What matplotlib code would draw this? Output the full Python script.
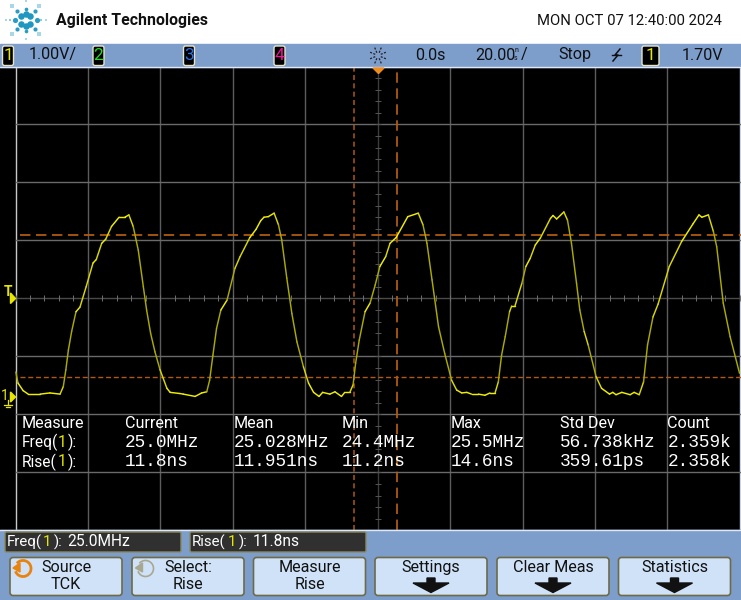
import numpy as np
import matplotlib
matplotlib.use('Agg')
import matplotlib.pyplot as plt
from matplotlib.collections import LineCollection
from matplotlib.patches import Rectangle, FancyBboxPatch, Polygon, Arc

plt.rcParams['font.family'] = ['Roboto', 'DejaVu Sans']
plt.rcParams['lines.scale_dashes'] = False

# trace, ns and volts
time_ns = [-99.9, -99.3, -97.9, -96.5, -93.2, -90.5, -87.7, -86.8, -86.1, -85.4, -84.5, -83.3, -82.2, -80.5,
           -78.6, -77.7, -76.2, -75.1, -73.5, -71.4, -69.8, -68.7, -67.5, -66.1, -64.7, -63.8, -62.7, -61.5,
           -60.1, -58.2, -57.3, -54.6, -53.7, -50.4, -48.6, -47.2, -46.4, -45.5, -44.5, -43.3, -41.6, -39.4,
           -38.0, -35.3, -33.6, -32.3, -31.4, -30.2, -28.6, -27.4, -26.5, -25.1, -23.7, -22.3, -20.5, -19.1,
           -17.7, -16.2, -15.2, -13.2, -11.8, -10.0, -9.1, -7.7, -6.8, -6.1, -5.1, -3.5, -2.1, -0.7,
           0.6, 2.2, 3.4, 5.1, 8.3, 11.2, 12.5, 13.6, 15.0, 16.8, 18.5, 20.4, 21.8, 23.2,
           24.6, 25.9, 27.8, 29.6, 31.0, 32.4, 33.3, 34.2, 35.2, 36.4, 37.0, 37.9, 39.8, 40.9,
           42.1, 43.5, 44.9, 47.7, 48.4, 49.4, 51.4, 52.4, 53.5, 54.9, 55.8, 57.0, 58.1, 60.3,
           61.8, 64.0, 64.9, 65.8, 67.4, 69.7, 70.8, 72.2, 73.4, 74.5, 76.0, 77.4, 80.5, 83.9,
           87.1, 88.7, 89.5, 91.3, 92.7, 93.6, 95.4, 97.3, 99.9]
volts = [0.43, 0.24, 0.11, 0.05, 0.05, 0.07, 0.05, 0.18, 0.47, 0.81, 1.13, 1.47, 1.55, 1.90,
         2.31, 2.37, 2.65, 2.72, 2.94, 3.10, 3.10, 3.14, 2.94, 2.53, 1.90, 1.50, 1.10, 0.78,
         0.47, 0.15, 0.08, 0.06, 0.05, 0.01, 0.07, 0.09, 0.29, 0.72, 1.18, 1.50, 1.67, 2.22,
         2.42, 2.75, 2.89, 3.04, 3.10, 3.11, 3.17, 2.97, 2.71, 2.05, 1.44, 0.95, 0.52, 0.24,
         0.08, 0.01, 0.08, 0.05, 0.09, 0.01, 0.08, 0.08, 0.21, 0.58, 0.98, 1.47, 1.62, 1.93,
         2.25, 2.42, 2.65, 2.75, 3.11, 3.17, 2.97, 2.65, 2.02, 1.21, 0.75, 0.29, 0.12, 0.07,
         0.08, 0.05, 0.05, 0.03, 0.07, 0.07, 0.26, 0.72, 1.04, 1.47, 1.57, 1.57, 1.96, 2.25,
         2.39, 2.62, 2.74, 3.08, 3.13, 3.07, 3.19, 3.05, 2.65, 1.96, 1.50, 1.13, 0.90, 0.35,
         0.15, 0.05, 0.08, 0.04, 0.08, 0.04, 0.08, 0.04, 0.26, 0.90, 1.38, 1.60, 2.25, 2.68,
         2.99, 3.14, 3.10, 3.14, 2.85, 2.59, 1.62, 1.04, 0.41]

cursor_x_ns = [-6.5, 5.3]
cursor_y_v = [2.80, 0.35]

table_headers = ['Current', 'Mean', 'Min', 'Max', 'Std Dev', 'Count']
freq_row = ['25.0MHz', '25.028MHz', '24.4MHz', '25.5MHz', '56.738kHz', '2.359k']
rise_row = ['11.8ns', '11.951ns', '11.2ns', '14.6ns', '359.61ps', '2.358k']
softkeys = [('Source', 'TCK'), ('Select:', 'Rise'), ('Measure', 'Rise'),
            ('Settings', ''), ('Clear Meas', ''), ('Statistics', '')]

BAND = '#7d9dcb'
KEY = '#cfe2f8'
YELLOW = '#e6e600'
ORANGE = '#b05a10'
INK = '#111111'
MONO = ['Liberation Mono', 'DejaVu Sans Mono']
PX_PER_NS = 3.622
CENTER_PX = 377.7

fig = plt.figure(figsize=(7.41, 6.0), dpi=100, facecolor='white')

# scope screen, real axes in ns and volts
ax = fig.add_axes([0, 1 - 530 / 600, 1, 463 / 600])
ax.set_xlim((0 - CENTER_PX) / PX_PER_NS, (741 - CENTER_PX) / PX_PER_NS)
ax.set_ylim(-2.293, 5.69)
ax.set_axis_off()
ax.add_patch(Rectangle((0, 0), 1, 1, transform=ax.transAxes, color='black', zorder=0))

for t in np.arange(-80, 81, 20):
    ax.axvline(t, color='#3c3c3c' if t == 0 else '#5c5c5c', lw=1.0, zorder=1)
ax.axvline(-100, color='#c8c8c8', lw=1.0, zorder=1)
ax.axvline(100, color='#c8d4e4', lw=1.0, zorder=1)
for v in np.arange(-2.3, 5.71, 1.0):
    ax.plot([-100, 100], [v, v], color='#4a4a4a' if abs(v - 1.7) < 0.01 else '#6a6a6a', lw=1.0, zorder=1)
ax.plot(np.arange(-100, 101, 4.0), np.full(51, 1.7), ls='none', marker='|', ms=4.5, mew=0.7, color='#707070', zorder=1)
ax.plot(np.zeros(41), np.arange(-2.3, 5.71, 0.2), ls='none', marker='_', ms=4.5, mew=0.7, color='#555555', zorder=1)

ax.axhline(cursor_y_v[0], xmin=20 / 741, color=ORANGE, lw=1.3, dashes=(7.5, 4), zorder=2)
ax.axhline(cursor_y_v[1], xmin=20 / 741, color=ORANGE, lw=1.0, dashes=(3.6, 2), zorder=2)
ax.axvline(cursor_x_ns[0], color=ORANGE, lw=1.1, dashes=(3.6, 2.4), zorder=2)
ax.axvline(cursor_x_ns[1], color=ORANGE, lw=1.3, dashes=(7.5, 4), zorder=2)

# steep parts of the trace are dimmer on the scope
pts = np.column_stack([time_ns, volts])
segs = np.stack([pts[:-1], pts[1:]], axis=1)
steep = np.abs(np.diff(volts)) / np.diff(time_ns)
seg_colors = ['#eeee00' if s < 0.12 else '#d8d800' if s < 0.22 else '#aaaa00' for s in steep]
ax.add_collection(LineCollection(segs, colors=seg_colors, linewidths=1.05, zorder=3, capstyle='round'))

# everything round the screen, in pixels
ui = fig.add_axes([0, 0, 1, 1], facecolor='none')
ui.set_xlim(0, 741)
ui.set_ylim(600, 0)
ui.set_axis_off()

ui.add_patch(Rectangle((0, 44), 741, 23, color=BAND, zorder=1))
ui.plot([0, 741], [67, 67], color='#dfe8f4', lw=1.0, zorder=2)
ui.add_patch(Rectangle((0, 530), 741, 70, color=BAND, zorder=1))
ui.plot([0, 741], [530, 530], color='#dfe8f4', lw=1.0, zorder=2)

# logo
logo_x, logo_y = 25.7, 20
for ang, r, s, col in [(90, 6, 22, '#1f97c0'), (270, 6, 22, '#1f97c0'), (40, 6.2, 22, '#1f97c0'), (140, 6.2, 22, '#1f97c0'),
                       (220, 6.2, 22, '#1f97c0'), (320, 6.2, 22, '#1f97c0'), (0, 11, 14, '#2a9cc4'), (180, 11, 14, '#2a9cc4'),
                       (45, 12.5, 9, '#2a9cc4'), (135, 12.5, 9, '#2a9cc4'), (225, 12.5, 9, '#2a9cc4'), (315, 12.5, 9, '#2a9cc4'),
                       (90, 11, 7, '#2a9cc4'), (270, 11, 7, '#2a9cc4'), (0, 15.5, 3, '#8ccbe0'), (180, 15.5, 3, '#8ccbe0'),
                       (0, 20, 3, '#a8d8e8'), (180, 20, 3, '#a8d8e8'), (90, 19, 3, '#a8d8e8'), (270, 19, 3, '#a8d8e8'),
                       (45, 19.5, 5, '#a8d8e8'), (135, 19.5, 5, '#a8d8e8'), (225, 19.5, 5, '#a8d8e8'), (315, 19.5, 5, '#a8d8e8')]:
    a = np.radians(ang)
    ui.scatter(logo_x + r * np.cos(a), logo_y + r * np.sin(a), s=s, color=col, lw=0, marker='s' if r > 15 else 'o', zorder=3)

ui.text(56, 21, 'Agilent Technologies', fontsize=11.4, fontweight='bold', va='center', color=INK)
ui.text(537, 21, 'MON OCT 07 12:40:00 2024', fontsize=10.7, va='center', color=INK)


def channel_box(x0, x1, label, color):
    ui.add_patch(FancyBboxPatch((x0, 46), x1 - x0, 19.5, boxstyle='round,pad=0,rounding_size=2',
                                fc='black', ec='#e8e4c8', lw=1.0, zorder=3))
    ui.text((x0 + x1) / 2, 55.5, label, color=color, fontsize=12.5, ha='center', va='center', zorder=4)


channel_box(2.5, 13.5, '1', YELLOW)
channel_box(93, 104, '2', '#22dd22')
channel_box(183.5, 194.5, '3', '#2f6fe8')
channel_box(274, 285, '4', '#f0129a')
channel_box(642, 659, '1', YELLOW)

ui.text(29, 55, '1.00V/', fontsize=11.6, va='center', color=INK)
ui.text(415, 55, '0.0s', fontsize=11.6, va='center', color=INK)
ui.text(475, 55, '20.00', fontsize=11.6, va='center', color=INK)
ui.text(516, 50.5, 'n', fontsize=5, ha='center', va='center', color=INK)
ui.text(516, 59, 's', fontsize=5, ha='center', va='center', color=INK)
ui.text(521, 55, '/', fontsize=11.6, va='center', color=INK)
ui.text(558, 55, 'Stop', fontsize=11.6, va='center', color=INK)
ui.text(682, 55, '1.70V', fontsize=11.6, va='center', color=INK)
ui.plot([620, 615, 618, 613], [49, 55, 55, 61], color=INK, lw=1.1, zorder=3)
ui.plot([612, 621], [55, 55], color=INK, lw=1.0, zorder=3)

# acquisition spark
for i in range(8):
    a = i * np.pi / 4 + np.pi / 8
    ui.plot([378 + 3 * np.cos(a), 378 + 9 * np.cos(a)], [55.5 + 3 * np.sin(a), 55.5 + 9 * np.sin(a)],
            color='#222222', lw=0.9, ls=(0, (1.5, 1)), zorder=3)

ui.add_patch(Polygon([[373, 68], [384, 68], [378.5, 73.5]], color='#f08c1e', zorder=5))

# left markers
ui.text(8, 292.5, 'T', color=YELLOW, fontsize=10, fontweight='bold', ha='center', va='center', zorder=5)
ui.add_patch(Polygon([[10.5, 293], [15.5, 298.5], [10.5, 303.5]], color=YELLOW, zorder=5))
ui.text(4.5, 396, '1', color=YELLOW, fontsize=10, ha='center', va='center', zorder=5)
ui.add_patch(Polygon([[10.5, 392], [15.5, 397], [10.5, 402]], color=YELLOW, zorder=5))
ui.plot([8, 8], [400, 405], color=YELLOW, lw=0.9, zorder=5)
ui.plot([4, 12], [405, 405], color=YELLOW, lw=0.9, zorder=5)
ui.plot([6, 10], [407, 407], color=YELLOW, lw=0.9, zorder=5)

# measurement table
col_x = [125, 233.5, 342, 451, 559.5, 667.5]
ui.text(21.5, 424, 'Measure', color='white', fontsize=11.6, va='center', zorder=5)
for rows_y, name, row in [(442.7, 'Freq', freq_row), (462, 'Rise', rise_row)]:
    ui.text(21.5, rows_y, name + '(', color='white', fontsize=11.2, va='center', zorder=5)
    ui.text(58, rows_y, '1', color=YELLOW, fontsize=11.2, va='center', zorder=5)
    ui.text(67.5, rows_y, '):', color='white', fontsize=11.2, va='center', zorder=5)
    for x, val in zip(col_x, row):
        ui.text(x, rows_y, val, color='white', fontsize=12.8, family=MONO, va='center', zorder=5)
for x, head in zip(col_x, table_headers):
    ui.text(x, 424, head, color='white', fontsize=11.6, va='center', zorder=5)

# status boxes under the screen
for x0, x1, name, val in [(5, 181, 'Freq', freq_row[0]), (190, 366, 'Rise', rise_row[0])]:
    ui.add_patch(FancyBboxPatch((x0, 532), x1 - x0, 20, boxstyle='round,pad=0,rounding_size=1.5',
                                fc='#303030', ec='#8a8a60', lw=1.0, zorder=3))
    ui.text(x0 + 2, 542, name + '(', color='white', fontsize=10.8, va='center', zorder=4)
    ui.text(x0 + 38, 542, '1', color=YELLOW, fontsize=10.8, va='center', zorder=4)
    ui.text(x0 + 49, 542, '):', color='white', fontsize=10.8, va='center', zorder=4)
    ui.text(x0 + 62.5, 542, val, color='white', fontsize=11.2, va='center', zorder=4)

# softkeys
key_x = [10, 132, 253.5, 375, 497, 618.5]
key_w = 112
for x, (top, bottom) in zip(key_x, softkeys):
    ui.add_patch(FancyBboxPatch((x, 557.5), key_w, 38, boxstyle='round,pad=0,rounding_size=3',
                                fc=KEY, ec='#6e6a48', lw=1.2, zorder=3))
    cx = x + key_w / 2
    ui.text(cx, 567.5, top, fontsize=11.6, ha='center', va='center', color=INK, zorder=4)
    if bottom:
        ui.text(cx, 584.5, bottom, fontsize=11.6, ha='center', va='center', color=INK, zorder=4)
    else:
        ui.add_patch(Polygon([[cx - 4, 578], [cx + 4, 578], [cx + 4, 583], [cx + 18, 583], [cx, 592.5],
                              [cx - 18, 583], [cx - 4, 583]], color=INK, zorder=4))

for cx, color, lw in [(23, '#e8830f', 2.0), (145.5, '#a8a890', 1.2)]:
    ui.add_patch(Arc((cx, 568.5), 16, 16, theta1=-140, theta2=160, color=color, lw=lw, zorder=4))
    ui.add_patch(Polygon([[cx - 10, 568], [cx - 3, 563], [cx - 3, 572]], color=color, zorder=4))

fig.savefig('out.png', dpi=100)
plt.close(fig)
